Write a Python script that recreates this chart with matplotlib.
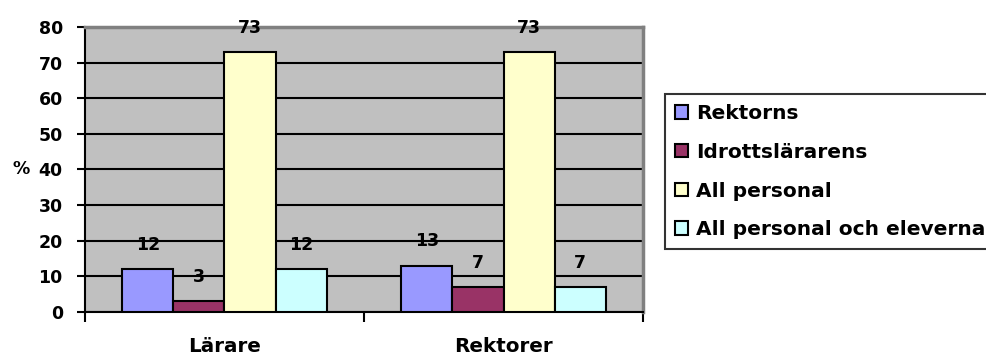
import numpy as np
import matplotlib
matplotlib.use("Agg")
import matplotlib.pyplot as plt

# survey answers, percent per respondent group
groups = ["Lärare", "Rektorer"]
series = ["Rektorns", "Idrottslärarens", "All personal", "All personal och eleverna"]
rektorns = [12, 13]
idrottslararens = [3, 7]
all_personal = [73, 73]
all_personal_elever = [12, 7]

values = [rektorns, idrottslararens, all_personal, all_personal_elever]
colors = ["#9999FF", "#993366", "#FFFFCC", "#CCFFFF"]

plt.rcParams["font.family"] = "DejaVu Sans"
plt.rcParams["font.weight"] = "bold"

fig = plt.figure(figsize=(9.87, 3.58), dpi=100)
ax = fig.add_axes([0.0861, 0.1285, 0.5654, 0.7961])
ax.set_facecolor("#C0C0C0")

x = np.arange(len(groups))
w = 0.183
for i, (vals, name, col) in enumerate(zip(values, series, colors)):
    pos = x + (i - 1.5) * w
    bars = ax.bar(pos, vals, w, color=col, edgecolor="black", linewidth=1.5,
                  label=name, zorder=3)
    for b, v in zip(bars, vals):
        ax.annotate(str(v), (b.get_x() + b.get_width() / 2, v),
                    xytext=(0, 17.5), textcoords="offset points",
                    ha="center", va="center", fontsize=12.5,
                    fontweight="bold", zorder=4)

ax.set_ylim(0, 80)
ax.set_xlim(-0.5, 1.5)
ax.set_yticks(range(0, 81, 10))
ax.yaxis.grid(True, color="black", linewidth=1.5)
ax.set_axisbelow(True)

# category ticks sit between groups, names go on minor ticks
ax.set_xticks([-0.5, 0.5, 1.5])
ax.set_xticklabels([])
ax.set_xticks(x, minor=True)
ax.set_xticklabels(groups, minor=True)
ax.tick_params(axis="x", which="major", length=7, width=1.5, direction="out")
ax.tick_params(axis="x", which="minor", length=0, pad=18, labelsize=14.3)
ax.tick_params(axis="y", length=6, width=1.5, pad=10, labelsize=12.5)

for side in ["left", "bottom"]:
    ax.spines[side].set_color("black")
    ax.spines[side].set_linewidth(1.5)
for side in ["top", "right"]:
    ax.spines[side].set_color("#808080")
    ax.spines[side].set_linewidth(2.5)

ax.set_ylabel("%", rotation=0, fontsize=12.5, fontweight="bold",
              ha="center", va="center")
ax.yaxis.set_label_coords(-0.115, 0.5)

leg = fig.legend(loc="upper left", bbox_to_anchor=(0.6738, 0.7374),
                 frameon=True, fancybox=False, edgecolor="black",
                 fontsize=14.5, labelspacing=0.98, handlelength=0.65,
                 handleheight=0.65, handletextpad=0.4, borderpad=0.5,
                 borderaxespad=0)
leg.get_frame().set_linewidth(1.5)

plt.savefig("out.png", dpi=100)
plt.close()
